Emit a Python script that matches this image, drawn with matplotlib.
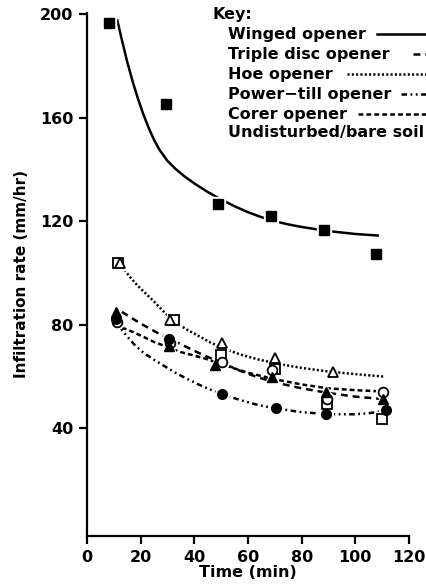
import numpy as np
import matplotlib
matplotlib.use("Agg")
import matplotlib.pyplot as plt
from matplotlib.lines import Line2D

plt.rcParams['font.family'] = ['DejaVu Sans']
plt.rcParams['font.weight'] = 'bold'
plt.rcParams['axes.labelweight'] = 'bold'
plt.rcParams['lines.scale_dashes'] = False

# ---- data ----

# Winged opener (filled squares, solid fitted curve)
winged_t = [8.1, 29.3, 48.9, 68.6, 88.3, 107.6]
winged_v = [196.6, 165.4, 126.5, 122.1, 116.7, 107.4]
winged_fit_t = [11.3, 13, 15, 17, 19, 21, 23, 25, 27, 30, 33, 36, 40, 45, 50,
                55, 60, 65, 70, 75, 80, 90, 100, 108.3]
winged_fit_v = [197.6, 190, 181.5, 174, 167.3, 161.3, 156, 151.4, 147.6, 143.3,
                140.2, 137.6, 134.6, 131.3, 128.4, 125.8, 123.5, 121.6, 120, 118.8,
                117.8, 116.2, 115.1, 114.5]

# Triple disc opener (filled triangles, long dashes)
triple_t = [10.8, 30.5, 47.7, 69.1, 89.1, 110.4]
triple_v = [84.8, 71.9, 64.5, 60.0, 54.0, 51.4]
triple_fit_t = [13, 20, 27, 35, 43, 51, 57, 63, 70, 80, 90, 100, 110]
triple_fit_v = [85, 80.5, 76.5, 72.5, 68.5, 65, 62.3, 60, 57.8, 55.5, 53.7, 52.3, 51.4]

# Hoe opener (open triangles, dotted)
hoe_t = [12.4, 31.0, 50.4, 70.1, 91.6]
hoe_v = [104.0, 81.9, 72.9, 67.1, 62.0]
hoe_fit_t = [13, 16, 19, 22, 25, 29, 33, 37, 42, 46, 50, 57, 64, 74, 82, 90, 100, 111]
hoe_fit_v = [102.5, 98.5, 95, 92, 89, 84.7, 81, 78.3, 75.5, 73.2, 71.3, 68.6,
             66.6, 64.4, 63.1, 62, 61, 60]

# Power-till opener (filled circles, dash-dot-dot)
power_t = [10.8, 30.7, 50.4, 70.4, 89.0, 111.3]
power_v = [82.2, 74.6, 53.3, 47.8, 45.5, 47.2]
power_fit_t = [12, 15, 18, 21, 25, 29, 33, 37, 42, 46, 50, 57, 64, 70, 80, 90,
               100, 105, 111]
power_fit_v = [79.5, 75.5, 72, 69.3, 66.5, 64, 61.5, 59.3, 56.8, 55, 53.4, 51,
               49, 47.8, 46.3, 45.5, 45.5, 45.9, 46.8]

# Corer opener (open circles, short dashes)
corer_t = [11.0, 31.0, 50.2, 68.8, 89.5, 110.2]
corer_v = [81.0, 73.0, 65.8, 62.6, 51.5, 54.2]
corer_fit_t = [13, 17, 21, 25, 35, 44, 51, 60, 70, 80, 90, 100, 110]
corer_fit_v = [79, 77.3, 75.4, 73.4, 69.5, 67, 64.5, 61.5, 59, 57, 55.5, 54.8, 54.3]

# Undisturbed/bare soil (open squares)
bare_t = [11.7, 32.5, 49.8, 70.0, 89.5, 110.0]
bare_v = [104.0, 82.0, 68.4, 62.9, 49.5, 43.6]

key_labels = ["Winged opener", "Triple disc opener", "Hoe opener",
              "Power\u2212till opener", "Corer opener", "Undisturbed/bare soil"]

# ---- styles ----
ls_long = (0, (5, 3.5))
ls_short = (0, (3.5, 2.2))
ls_dot = (0, (1.5, 1.6))
ls_dd = (0, (4, 2.5, 1.3, 2.5, 1.3, 2.5))

W, H = 426, 585
fig = plt.figure(figsize=(W / 100, H / 100), dpi=100)
ax = fig.add_axes([87 / W, (H - 536) / H, (409 - 87) / W, (536 - 13) / H])

# fitted curves
ax.plot(winged_fit_t, winged_fit_v, color='k', lw=1.8, ls='-')
ax.plot(triple_fit_t, triple_fit_v, color='k', lw=1.8, ls=ls_long)
ax.plot(hoe_fit_t, hoe_fit_v, color='k', lw=1.8, ls=ls_dot)
ax.plot(power_fit_t, power_fit_v, color='k', lw=1.8, ls=ls_dd)
ax.plot(corer_fit_t, corer_fit_v, color='k', lw=1.8, ls=ls_short)

# markers with a white halo (line breaks around points like the print)
def pts(t, v, m, ms, filled):
    ax.plot(t, v, ls='none', marker=m, ms=ms + 3, mfc='white', mec='white', zorder=3)
    if filled:
        ax.plot(t, v, ls='none', marker=m, ms=ms, mfc='k', mec='k', zorder=4)
    else:
        ax.plot(t, v, ls='none', marker=m, ms=ms, mfc='white', mec='k', mew=1.3, zorder=4)

pts(bare_t, bare_v, 's', 6.5, False)
pts(corer_t, corer_v, 'o', 7, False)
pts(hoe_t, hoe_v, '^', 7.5, False)
pts(triple_t, triple_v, '^', 7.5, True)
pts(power_t, power_v, 'o', 7, True)
pts(winged_t, winged_v, 's', 6.5, True)

ax.set_xlim(0, 120)
ax.set_ylim(-1.5, 200.4)
ax.set_xticks(range(0, 121, 20))
ax.set_yticks([40, 80, 120, 160, 200])
ax.spines['top'].set_visible(False)
ax.spines['right'].set_visible(False)
for s in ['left', 'bottom']:
    ax.spines[s].set_linewidth(1.6)
ax.tick_params(direction='out', length=6, width=1.6, labelsize=11.5, pad=4)
ax.set_xlabel("Time (min)", fontsize=11.5, labelpad=0)
ax.set_ylabel("Infiltration rate (mm/hr)", fontsize=11, labelpad=8)

# key in the top right, running off the edge
fig.text(212 / W, 1 - 15 / H, "Key:", fontsize=11.5, va='center', ha='left')
key_y = [34, 54, 74, 94, 114, 133]
key_ls = ['-', ls_long, ls_dot, ls_dd, ls_short, None]
key_x0 = [377, 413, 347, 401, 358, None]
for lab, yy, st, x0 in zip(key_labels, key_y, key_ls, key_x0):
    fig.text(228 / W, 1 - yy / H, lab, fontsize=11.5, va='center', ha='left')
    if st is not None:
        fig.add_artist(Line2D([x0 / W, 1.05], [1 - yy / H, 1 - yy / H],
                              transform=fig.transFigure, color='k', lw=1.8, ls=st))

fig.savefig("out.png", dpi=100)
